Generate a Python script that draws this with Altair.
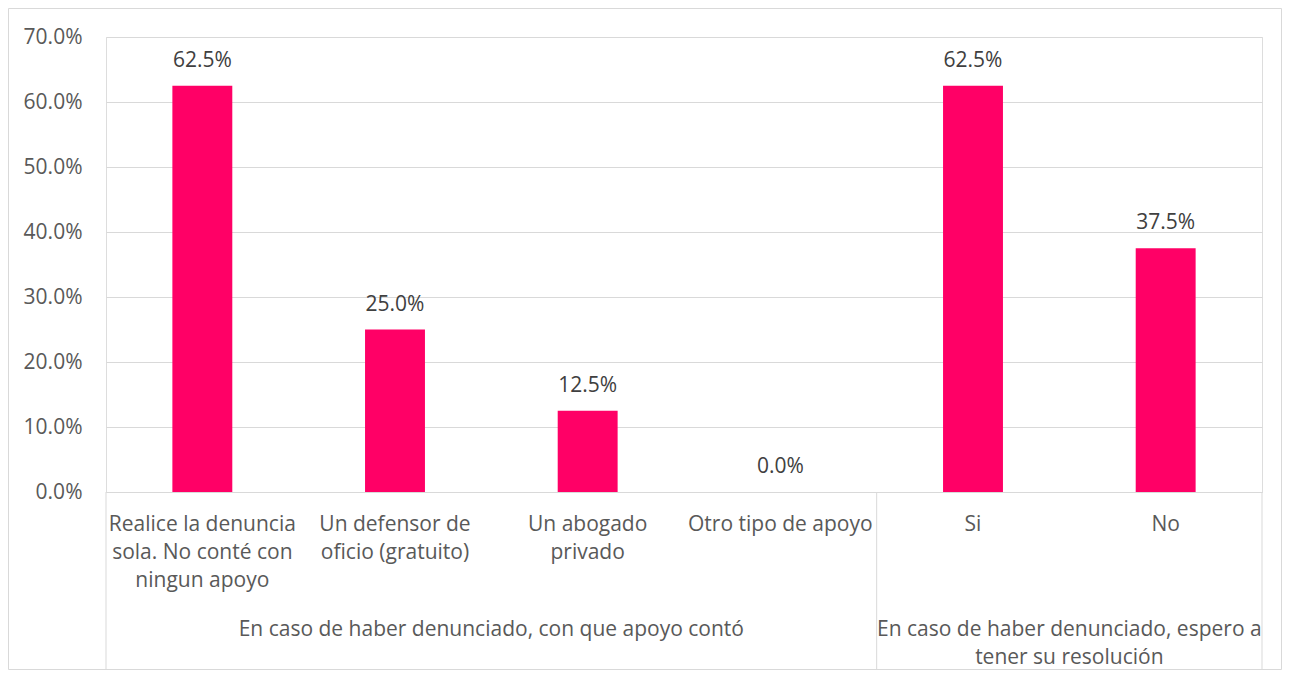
import altair as alt
import pandas as pd

categories = [
    "Realice la denuncia\nsola. No conté con\nningun apoyo",
    "Un defensor de\noficio (gratuito)",
    "Un abogado\nprivado",
    "Otro tipo de apoyo",
    "Si",
    "No",
]
values = [0.625, 0.25, 0.125, 0.0, 0.625, 0.375]
value_labels = ["62.5%", "25.0%", "12.5%", "0.0%", "62.5%", "37.5%"]

group_labels = [
    "En caso de haber denunciado, con que apoyo contó",
    "En caso de haber denunciado, espero a\ntener su resolución",
]
# category whose band start is the centre of each group
group_anchor = [categories[2], categories[5]]
# categories whose band start marks a group boundary
boundary_start = [categories[0], categories[4]]
boundary_end = [categories[5]]

FONT = "Open Sans"
FS = 21
BAR = "#FF0066"
GRID = "#D9D9D9"

df = pd.DataFrame({"cat": categories, "val": values, "lab": value_labels})
gdf = pd.DataFrame({"anchor": group_anchor, "text": group_labels})
bsdf = pd.DataFrame({"cat": boundary_start})
bedf = pd.DataFrame({"cat": boundary_end})

xscale = alt.Scale(domain=categories, paddingInner=0, paddingOuter=0)
yscale = alt.Scale(domain=[0, 0.7], nice=False)

base = alt.Chart(df)

bars = base.mark_bar(color=BAR, width=alt.RelativeBandSize(0.311)).encode(
    x=alt.X("cat:N", scale=xscale, sort=categories,
            axis=alt.Axis(labels=False, ticks=False, title=None,
                          domain=True, domainColor=GRID, domainWidth=1)),
    y=alt.Y("val:Q", scale=yscale,
            axis=alt.Axis(values=[0, 0.1, 0.2, 0.3, 0.4, 0.5, 0.6, 0.7],
                          format=".1%", title=None, domain=False, ticks=False,
                          gridColor=GRID, gridWidth=1, labelPadding=24,
                          labelFont=FONT, labelFontSize=FS, labelColor="#595959")),
)

vlabels = base.mark_text(font=FONT, fontSize=FS, color="#404040",
                         baseline="alphabetic", dy=-19).encode(
    x=alt.X("cat:N", scale=xscale, sort=categories),
    y=alt.Y("val:Q", scale=yscale),
    text="lab:N",
)

catlabels = base.mark_text(font=FONT, fontSize=FS, color="#595959",
                           baseline="top", lineBreak="\n", lineHeight=28).encode(
    x=alt.X("cat:N", scale=xscale, sort=categories),
    y=alt.value(477),
    text="cat:N",
)

glabels = alt.Chart(gdf).mark_text(font=FONT, fontSize=FS, color="#595959",
                                   baseline="top", lineBreak="\n", lineHeight=28).encode(
    x=alt.X("anchor:N", scale=xscale, sort=categories, bandPosition=0),
    y=alt.value(582),
    text="text:N",
)

sep_start = alt.Chart(bsdf).mark_rule(color=GRID, strokeWidth=1).encode(
    x=alt.X("cat:N", scale=xscale, sort=categories, bandPosition=0),
    y=alt.value(455),
    y2=alt.value(633),
)
sep_end = alt.Chart(bedf).mark_rule(color=GRID, strokeWidth=1).encode(
    x=alt.X("cat:N", scale=xscale, sort=categories, bandPosition=1),
    y=alt.value(455),
    y2=alt.value(633),
)

border = alt.Chart(pd.DataFrame({"k": [0]})).mark_rect(
    filled=False, stroke=GRID, strokeWidth=1).encode(
    x=alt.value(-97.5), x2=alt.value(1175.5),
    y=alt.value(-28.5), y2=alt.value(632.5),
)

chart = alt.layer(bars, vlabels, catlabels, glabels, sep_start, sep_end, border).properties(
    width=1156,
    height=455,
    autosize=alt.AutoSizeParams(type="none"),
    padding={"left": 98, "top": 29, "right": 22, "bottom": 178},
).configure_view(stroke=None).configure(background="white")

chart.save("out.html", embed_options={"renderer": "svg", "actions": False})
